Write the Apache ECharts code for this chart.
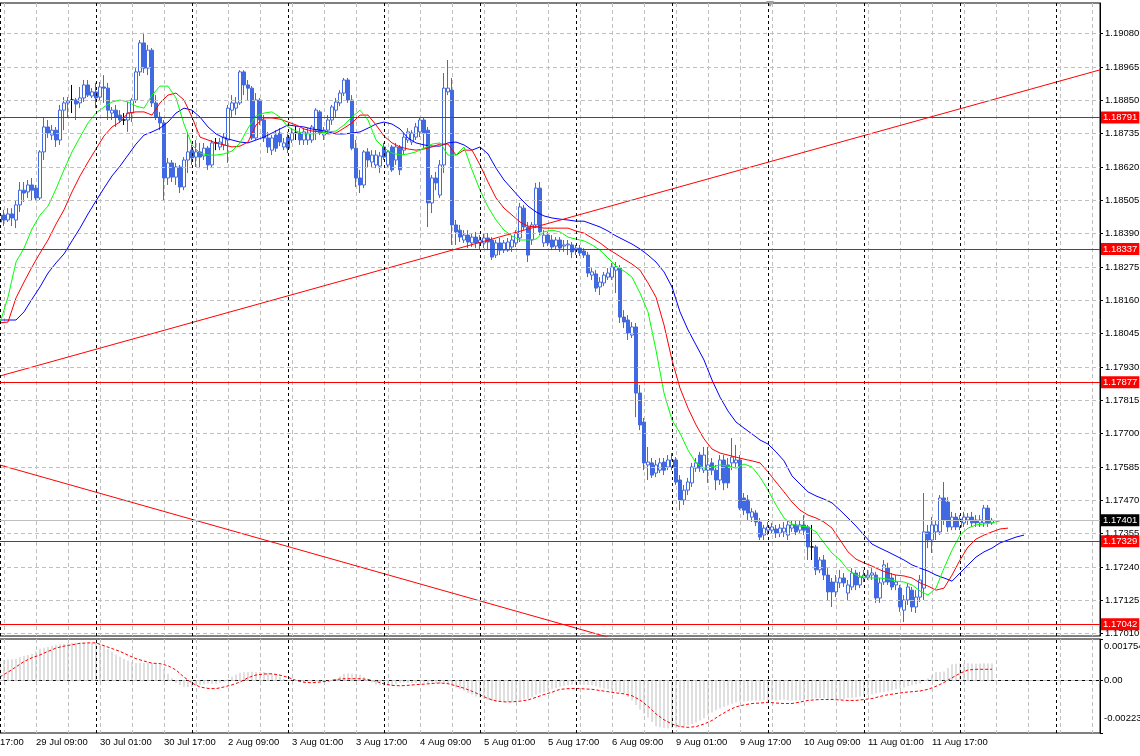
<!DOCTYPE html>
<html><head><meta charset="utf-8">
<script src="https://cdn.jsdelivr.net/npm/echarts@6/dist/echarts.min.js"></script>
<style>html,body{margin:0;padding:0;background:#fff;overflow:hidden;width:1140px;height:756px;position:relative}#c{position:absolute;left:-28px;top:0;width:1168px;height:756px}</style>
</head><body><div id="c"></div>
<script>
// ---------- DATA ----------
const opens=[1.18430,1.18454,1.18437,1.18458,1.18437,1.18489,1.18540,1.18534,1.18558,1.18547,1.18513,1.18672,1.18758,1.18730,1.18747,1.18713,1.18816,1.18841,1.18851,1.18851,1.18841,1.18858,1.18903,1.18865,1.18879,1.18861,1.18896,1.18892,1.18806,1.18816,1.18799,1.18782,1.18782,1.18806,1.18851,1.18948,1.19048,1.18961,1.19023,1.18841,1.18792,1.18772,1.18582,1.18634,1.18585,1.18620,1.18551,1.18644,1.18678,1.18654,1.18672,1.18658,1.18685,1.18627,1.18703,1.18689,1.18696,1.18713,1.18816,1.18823,1.18841,1.18948,1.18903,1.18892,1.18720,1.18851,1.18782,1.18720,1.18678,1.18730,1.18737,1.18689,1.18723,1.18713,1.18737,1.18737,1.18713,1.18713,1.18713,1.18747,1.18810,1.18730,1.18747,1.18782,1.18816,1.18841,1.18875,1.18920,1.18851,1.18685,1.18582,1.18558,1.18672,1.18637,1.18627,1.18623,1.18689,1.18627,1.18689,1.18644,1.18689,1.18678,1.18713,1.18706,1.18723,1.18741,1.18782,1.18747,1.18496,1.18582,1.18523,1.18627,1.18879,1.18885,1.18420,1.18402,1.18368,1.18385,1.18358,1.18378,1.18358,1.18358,1.18375,1.18368,1.18316,1.18358,1.18333,1.18333,1.18344,1.18358,1.18375,1.18478,1.18413,1.18368,1.18420,1.18547,1.18358,1.18385,1.18368,1.18347,1.18368,1.18347,1.18351,1.18351,1.18333,1.18340,1.18330,1.18316,1.18247,1.18251,1.18206,1.18220,1.18240,1.18240,1.18264,1.18271,1.18102,1.18092,1.18040,1.18068,1.17840,1.17740,1.17592,1.17599,1.17564,1.17574,1.17602,1.17585,1.17585,1.17609,1.17540,1.17471,1.17505,1.17530,1.17581,1.17626,1.17574,1.17574,1.17599,1.17574,1.17540,1.17609,1.17592,1.17599,1.17599,1.17609,1.17478,1.17471,1.17412,1.17426,1.17395,1.17350,1.17367,1.17367,1.17371,1.17357,1.17361,1.17350,1.17374,1.17385,1.17367,1.17385,1.17378,1.17309,1.17309,1.17230,1.17264,1.17212,1.17188,1.17154,1.17185,1.17202,1.17150,1.17171,1.17219,1.17178,1.17202,1.17205,1.17212,1.17212,1.17133,1.17188,1.17236,1.17202,1.17178,1.17167,1.17091,1.17126,1.17160,1.17102,1.17136,1.17167,1.17361,1.17333,1.17361,1.17361,1.17478,1.17464,1.17378,1.17412,1.17378,1.17392,1.17402,1.17412,1.17402,1.17392,1.17392,1.17443,1.17392];
const closes=[1.18454,1.18437,1.18458,1.18444,1.18489,1.18540,1.18530,1.18558,1.18540,1.18513,1.18672,1.18758,1.18737,1.18747,1.18713,1.18816,1.18841,1.18848,1.18851,1.18837,1.18858,1.18903,1.18868,1.18879,1.18858,1.18896,1.18892,1.18816,1.18816,1.18792,1.18782,1.18782,1.18806,1.18851,1.18948,1.19048,1.18961,1.19023,1.18841,1.18792,1.18772,1.18582,1.18634,1.18585,1.18620,1.18551,1.18644,1.18672,1.18651,1.18672,1.18654,1.18685,1.18627,1.18703,1.18703,1.18706,1.18723,1.18823,1.18841,1.18841,1.18948,1.18903,1.18892,1.18720,1.18851,1.18782,1.18720,1.18689,1.18720,1.18685,1.18706,1.18703,1.18685,1.18737,1.18737,1.18713,1.18741,1.18737,1.18758,1.18816,1.18737,1.18747,1.18782,1.18827,1.18844,1.18875,1.18920,1.18851,1.18685,1.18582,1.18558,1.18672,1.18644,1.18661,1.18661,1.18658,1.18654,1.18672,1.18610,1.18689,1.18610,1.18723,1.18741,1.18737,1.18758,1.18782,1.18737,1.18496,1.18582,1.18565,1.18627,1.18892,1.18892,1.18420,1.18396,1.18378,1.18385,1.18361,1.18378,1.18358,1.18368,1.18375,1.18361,1.18309,1.18358,1.18333,1.18358,1.18361,1.18368,1.18392,1.18482,1.18413,1.18316,1.18420,1.18547,1.18396,1.18385,1.18358,1.18344,1.18368,1.18340,1.18351,1.18354,1.18327,1.18340,1.18323,1.18316,1.18254,1.18258,1.18202,1.18223,1.18247,1.18254,1.18275,1.18275,1.18102,1.18085,1.18047,1.18068,1.17840,1.17730,1.17599,1.17602,1.17557,1.17592,1.17599,1.17574,1.17609,1.17609,1.17533,1.17471,1.17505,1.17533,1.17585,1.17599,1.17581,1.17626,1.17592,1.17574,1.17540,1.17609,1.17530,1.17530,1.17619,1.17609,1.17443,1.17436,1.17426,1.17430,1.17395,1.17343,1.17374,1.17378,1.17378,1.17357,1.17374,1.17374,1.17385,1.17385,1.17361,1.17385,1.17367,1.17309,1.17309,1.17230,1.17264,1.17212,1.17154,1.17154,1.17188,1.17202,1.17185,1.17178,1.17219,1.17178,1.17205,1.17212,1.17212,1.17219,1.17133,1.17185,1.17247,1.17188,1.17171,1.17188,1.17102,1.17126,1.17171,1.17102,1.17136,1.17195,1.17361,1.17333,1.17385,1.17385,1.17478,1.17402,1.17378,1.17412,1.17378,1.17405,1.17412,1.17412,1.17392,1.17392,1.17402,1.17443,1.17392,1.17401];
const highs=[1.18471,1.18472,1.18478,1.18478,1.18506,1.18568,1.18568,1.18575,1.18582,1.18558,1.18678,1.18792,1.18782,1.18765,1.18758,1.18834,1.18861,1.18861,1.18903,1.18858,1.18896,1.18920,1.18920,1.18892,1.18910,1.18913,1.18937,1.18910,1.18827,1.18834,1.18816,1.18806,1.18844,1.18858,1.18961,1.19058,1.19083,1.19041,1.19030,1.18868,1.18810,1.18782,1.18651,1.18644,1.18634,1.18627,1.18654,1.18741,1.18696,1.18713,1.18703,1.18703,1.18692,1.18713,1.18720,1.18720,1.18737,1.18834,1.18868,1.18861,1.18954,1.18954,1.18920,1.18899,1.18875,1.18858,1.18799,1.18741,1.18730,1.18747,1.18754,1.18720,1.18741,1.18754,1.18761,1.18754,1.18754,1.18754,1.18765,1.18823,1.18816,1.18758,1.18799,1.18834,1.18858,1.18885,1.18927,1.18927,1.18868,1.18713,1.18610,1.18678,1.18685,1.18678,1.18678,1.18672,1.18703,1.18678,1.18696,1.18703,1.18696,1.18737,1.18754,1.18747,1.18772,1.18789,1.18792,1.18758,1.18592,1.18603,1.18644,1.18944,1.18989,1.18927,1.18437,1.18420,1.18402,1.18402,1.18392,1.18396,1.18385,1.18392,1.18392,1.18378,1.18368,1.18375,1.18368,1.18375,1.18385,1.18402,1.18496,1.18489,1.18430,1.18430,1.18565,1.18568,1.18402,1.18396,1.18385,1.18378,1.18378,1.18368,1.18368,1.18361,1.18351,1.18351,1.18340,1.18327,1.18271,1.18264,1.18240,1.18258,1.18271,1.18289,1.18292,1.18282,1.18126,1.18109,1.18085,1.18082,1.17868,1.17754,1.17654,1.17616,1.17609,1.17616,1.17616,1.17626,1.17633,1.17619,1.17557,1.17523,1.17547,1.17599,1.17616,1.17637,1.17654,1.17654,1.17616,1.17592,1.17626,1.17626,1.17616,1.17685,1.17661,1.17626,1.17495,1.17488,1.17443,1.17436,1.17409,1.17385,1.17395,1.17392,1.17385,1.17388,1.17395,1.17402,1.17402,1.17402,1.17402,1.17419,1.17385,1.17385,1.17316,1.17274,1.17281,1.17236,1.17202,1.17212,1.17230,1.17219,1.17195,1.17236,1.17230,1.17223,1.17230,1.17230,1.17236,1.17223,1.17202,1.17264,1.17254,1.17219,1.17212,1.17178,1.17143,1.17185,1.17171,1.17160,1.17212,1.17495,1.17385,1.17412,1.17402,1.17488,1.17533,1.17481,1.17430,1.17426,1.17419,1.17430,1.17426,1.17430,1.17419,1.17419,1.17454,1.17454,1.17409];
const lows=[1.18409,1.18416,1.18430,1.18416,1.18409,1.18465,1.18499,1.18513,1.18506,1.18506,1.18506,1.18644,1.18720,1.18713,1.18689,1.18696,1.18747,1.18792,1.18806,1.18782,1.18823,1.18844,1.18861,1.18858,1.18823,1.18851,1.18841,1.18782,1.18782,1.18758,1.18772,1.18765,1.18741,1.18775,1.18841,1.18934,1.18944,1.18937,1.18827,1.18782,1.18747,1.18506,1.18558,1.18568,1.18558,1.18530,1.18540,1.18599,1.18627,1.18620,1.18616,1.18644,1.18610,1.18616,1.18678,1.18678,1.18678,1.18634,1.18789,1.18799,1.18834,1.18868,1.18851,1.18713,1.18713,1.18765,1.18706,1.18668,1.18661,1.18672,1.18692,1.18678,1.18668,1.18703,1.18713,1.18696,1.18696,1.18696,1.18703,1.18713,1.18730,1.18713,1.18737,1.18765,1.18792,1.18830,1.18865,1.18841,1.18678,1.18551,1.18530,1.18547,1.18620,1.18620,1.18616,1.18599,1.18644,1.18616,1.18603,1.18627,1.18592,1.18661,1.18703,1.18696,1.18713,1.18723,1.18685,1.18413,1.18461,1.18540,1.18513,1.18599,1.18868,1.18351,1.18351,1.18361,1.18358,1.18340,1.18344,1.18340,1.18333,1.18340,1.18333,1.18299,1.18306,1.18316,1.18323,1.18327,1.18327,1.18344,1.18361,1.18402,1.18292,1.18351,1.18409,1.18385,1.18344,1.18347,1.18333,1.18333,1.18327,1.18327,1.18316,1.18306,1.18316,1.18313,1.18306,1.18240,1.18230,1.18189,1.18178,1.18209,1.18230,1.18230,1.18185,1.18082,1.18064,1.18023,1.18030,1.17757,1.17712,1.17574,1.17540,1.17547,1.17550,1.17564,1.17557,1.17574,1.17574,1.17523,1.17436,1.17454,1.17488,1.17516,1.17568,1.17568,1.17564,1.17530,1.17557,1.17505,1.17523,1.17505,1.17512,1.17574,1.17581,1.17436,1.17419,1.17402,1.17395,1.17381,1.17333,1.17333,1.17350,1.17357,1.17340,1.17343,1.17343,1.17333,1.17361,1.17350,1.17357,1.17350,1.17264,1.17264,1.17212,1.17219,1.17195,1.17126,1.17102,1.17136,1.17167,1.17171,1.17126,1.17160,1.17160,1.17167,1.17188,1.17195,1.17195,1.17116,1.17116,1.17178,1.17178,1.17160,1.17160,1.17085,1.17050,1.17109,1.17085,1.17081,1.17119,1.17126,1.17305,1.17288,1.17333,1.17350,1.17385,1.17361,1.17367,1.17367,1.17367,1.17378,1.17385,1.17378,1.17378,1.17378,1.17378,1.17378,1.17385];

// Alligator lines, one value every 2 bars starting at bar 0
const lipsGreen=[1.18082,1.18171,1.18292,1.18340,1.18406,1.18454,1.18485,1.18544,1.18610,1.18672,1.18723,1.18772,1.18806,1.18827,1.18844,1.18851,1.18844,1.18830,1.18823,1.18868,1.18899,1.18899,1.18858,1.18768,1.18696,1.18668,1.18661,1.18661,1.18665,1.18675,1.18703,1.18754,1.18796,1.18806,1.18810,1.18792,1.18758,1.18744,1.18734,1.18734,1.18737,1.18741,1.18744,1.18765,1.18792,1.18816,1.18782,1.18713,1.18685,1.18668,1.18661,1.18665,1.18672,1.18685,1.18699,1.18703,1.18661,1.18661,1.18689,1.18610,1.18540,1.18482,1.18437,1.18402,1.18382,1.18368,1.18368,1.18371,1.18396,1.18402,1.18396,1.18378,1.18371,1.18365,1.18351,1.18333,1.18306,1.18278,1.18261,1.18240,1.18185,1.18120,1.17988,1.17840,1.17747,1.17702,1.17643,1.17599,1.17581,1.17585,1.17592,1.17588,1.17581,1.17595,1.17585,1.17550,1.17505,1.17454,1.17409,1.17388,1.17381,1.17378,1.17361,1.17323,1.17288,1.17264,1.17230,1.17212,1.17205,1.17202,1.17202,1.17198,1.17191,1.17188,1.17178,1.17157,1.17143,1.17167,1.17236,1.17298,1.17350,1.17374,1.17385,1.17388,1.17392,1.17399];
const teethRed=[1.18082,1.18085,1.18168,1.18223,1.18275,1.18323,1.18368,1.18423,1.18472,1.18534,1.18589,1.18637,1.18682,1.18727,1.18758,1.18775,1.18806,1.18810,1.18810,1.18799,1.18841,1.18868,1.18875,1.18851,1.18792,1.18723,1.18713,1.18703,1.18696,1.18689,1.18692,1.18706,1.18765,1.18789,1.18789,1.18785,1.18775,1.18765,1.18751,1.18744,1.18741,1.18734,1.18737,1.18754,1.18772,1.18799,1.18799,1.18765,1.18727,1.18703,1.18689,1.18682,1.18678,1.18682,1.18689,1.18699,1.18699,1.18661,1.18678,1.18678,1.18627,1.18568,1.18513,1.18478,1.18454,1.18430,1.18416,1.18413,1.18409,1.18409,1.18409,1.18409,1.18399,1.18392,1.18375,1.18358,1.18337,1.18320,1.18302,1.18285,1.18264,1.18220,1.18171,1.18075,1.17954,1.17857,1.17788,1.17730,1.17682,1.17647,1.17633,1.17626,1.17619,1.17612,1.17606,1.17599,1.17568,1.17533,1.17499,1.17464,1.17436,1.17419,1.17409,1.17395,1.17374,1.17333,1.17292,1.17267,1.17254,1.17243,1.17230,1.17219,1.17212,1.17209,1.17202,1.17185,1.17174,1.17160,1.17167,1.17212,1.17264,1.17309,1.17336,1.17350,1.17361,1.17371,1.17374];
const jawBlue=[1.18092,1.18092,1.18092,1.18120,1.18164,1.18206,1.18254,1.18289,1.18320,1.18365,1.18409,1.18458,1.18503,1.18547,1.18589,1.18623,1.18661,1.18699,1.18730,1.18741,1.18754,1.18775,1.18806,1.18823,1.18816,1.18792,1.18758,1.18734,1.18720,1.18713,1.18706,1.18703,1.18713,1.18723,1.18737,1.18751,1.18765,1.18761,1.18758,1.18751,1.18747,1.18741,1.18734,1.18734,1.18737,1.18741,1.18754,1.18768,1.18775,1.18768,1.18751,1.18720,1.18703,1.18696,1.18692,1.18692,1.18703,1.18706,1.18696,1.18678,1.18689,1.18665,1.18616,1.18575,1.18544,1.18513,1.18485,1.18465,1.18451,1.18444,1.18440,1.18437,1.18433,1.18433,1.18423,1.18413,1.18399,1.18382,1.18368,1.18354,1.18337,1.18316,1.18292,1.18258,1.18206,1.18120,1.18058,1.18006,1.17954,1.17885,1.17826,1.17778,1.17740,1.17719,1.17699,1.17678,1.17664,1.17637,1.17606,1.17554,1.17526,1.17499,1.17485,1.17474,1.17461,1.17436,1.17409,1.17381,1.17350,1.17319,1.17305,1.17292,1.17278,1.17264,1.17247,1.17236,1.17226,1.17212,1.17202,1.17191,1.17219,1.17247,1.17274,1.17292,1.17305,1.17323,1.17333,1.17343,1.17350];

// MACD histogram (one per bar) and signal (one every 2 bars)
const macdMain=[83e-5,85e-5,87e-5,90e-5,92e-5,98e-5,104e-5,108e-5,113e-5,124e-5,134e-5,138e-5,142e-5,147e-5,151e-5,153e-5,155e-5,157e-5,159e-5,160e-5,160e-5,159e-5,159e-5,160e-5,159e-5,154e-5,147e-5,134e-5,121e-5,110e-5,100e-5,91e-5,83e-5,78e-5,74e-5,74e-5,74e-5,75e-5,74e-5,71e-5,66e-5,48e-5,28e-5,9e-5,-10e-5,-20e-5,-27e-5,-28e-5,-27e-5,-23e-5,-19e-5,-16e-5,-14e-5,-14e-5,-14e-5,-10e-5,-6e-5,5e-5,15e-5,24e-5,32e-5,34e-5,36e-5,37e-5,36e-5,36e-5,36e-5,32e-5,28e-5,22e-5,15e-5,6e-5,-2e-5,-2e-5,-2e-5,-4e-5,-6e-5,-6e-5,-6e-5,-6e-5,-6e-5,-4e-5,-2e-5,3e-5,7e-5,18e-5,28e-5,29e-5,28e-5,26e-5,24e-5,14e-5,3e-5,-9e-5,-19e-5,-21e-5,-23e-5,-23e-5,-23e-5,-16e-5,-10e-5,-9e-5,-10e-5,-11e-5,-10e-5,-9e-5,-10e-5,-12e-5,-10e-5,-12e-5,-14e-5,-10e-5,-14e-5,-25e-5,-31e-5,-38e-5,-44e-5,-53e-5,-61e-5,-68e-5,-74e-5,-78e-5,-82e-5,-87e-5,-91e-5,-91e-5,-91e-5,-91e-5,-91e-5,-89e-5,-84e-5,-80e-5,-78e-5,-70e-5,-61e-5,-55e-5,-50e-5,-44e-5,-38e-5,-32e-5,-27e-5,-23e-5,-20e-5,-18e-5,-17e-5,-17e-5,-18e-5,-20e-5,-21e-5,-25e-5,-30e-5,-34e-5,-38e-5,-43e-5,-47e-5,-51e-5,-55e-5,-70e-5,-85e-5,-104e-5,-123e-5,-140e-5,-157e-5,-176e-5,-195e-5,-199e-5,-203e-5,-204e-5,-203e-5,-201e-5,-199e-5,-195e-5,-191e-5,-185e-5,-178e-5,-170e-5,-161e-5,-148e-5,-136e-5,-127e-5,-119e-5,-112e-5,-106e-5,-99e-5,-93e-5,-91e-5,-89e-5,-87e-5,-85e-5,-86e-5,-85e-5,-84e-5,-85e-5,-85e-5,-85e-5,-83e-5,-81e-5,-83e-5,-85e-5,-85e-5,-85e-5,-83e-5,-81e-5,-78e-5,-76e-5,-76e-5,-76e-5,-78e-5,-81e-5,-81e-5,-81e-5,-78e-5,-76e-5,-74e-5,-72e-5,-68e-5,-64e-5,-61e-5,-59e-5,-55e-5,-51e-5,-49e-5,-47e-5,-42e-5,-38e-5,-34e-5,-30e-5,-25e-5,-21e-5,-17e-5,-13e-5,-2e-5,8e-5,21e-5,34e-5,36e-5,38e-5,53e-5,68e-5,70e-5,72e-5,72e-5,73e-5,72e-5,71e-5,72e-5,73e-5,72e-5,72e-5];
const macdSignal=[15e-5,35e-5,57e-5,80e-5,96e-5,108e-5,123e-5,137e-5,145e-5,151e-5,157e-5,159e-5,159e-5,147e-5,135e-5,123e-5,107e-5,92e-5,82e-5,73e-5,71e-5,62e-5,44e-5,14e-5,-11e-5,-28e-5,-34e-5,-35e-5,-28e-5,-19e-5,-7e-5,11e-5,23e-5,27e-5,28e-5,22e-5,13e-5,0,-8e-5,-10e-5,-7e-5,-3e-5,4e-5,7e-5,7e-5,7e-5,4e-5,-4e-5,-15e-5,-21e-5,-23e-5,-21e-5,-18e-5,-16e-5,-13e-5,-11e-5,-14e-5,-23e-5,-33e-5,-46e-5,-61e-5,-77e-5,-87e-5,-91e-5,-91e-5,-88e-5,-83e-5,-72e-5,-60e-5,-50e-5,-38e-5,-35e-5,-34e-5,-36e-5,-38e-5,-43e-5,-48e-5,-53e-5,-57e-5,-65e-5,-83e-5,-110e-5,-142e-5,-167e-5,-185e-5,-196e-5,-199e-5,-196e-5,-185e-5,-170e-5,-148e-5,-128e-5,-112e-5,-104e-5,-98e-5,-96e-5,-93e-5,-96e-5,-98e-5,-98e-5,-92e-5,-85e-5,-82e-5,-81e-5,-81e-5,-83e-5,-85e-5,-85e-5,-81e-5,-77e-5,-68e-5,-61e-5,-56e-5,-51e-5,-48e-5,-45e-5,-38e-5,-25e-5,-9e-5,11e-5,30e-5,44e-5,47e-5,47e-5,47e-5];

// levels, trend lines, ticks
const redLevels=[1.18791,1.18337,1.17877,1.17329,1.17042];
const bidPrice=1.17401;
const priceTicks=[1.17010,1.17125,1.17240,1.17355,1.17470,1.17585,1.17700,1.17815,1.17930,1.18045,1.18160,1.18275,1.18390,1.18505,1.18620,1.18735,1.18850,1.18965,1.19080];
const macdTicks=[-0.00223,0,0.001754];
const macdTickLabels=['-0.00223','0.00','0.001754'];
const trendUpBars=[-7,275], trendUpPrices=[1.17872,1.18955];
const trendDownBars=[-7,175], trendDownPrices=[1.17619,1.16908];

// time categories (H1, weekends skipped), first 7 slots before the first visible bar
const PRE=7, NCAT=283;
const MONTHS=['Jan','Feb','Mar','Apr','May','Jun','Jul','Aug','Sep','Oct','Nov','Dec'];
const categories=[];
(function(){let t=Date.UTC(2021,6,28,17);while(categories.length<NCAT){const d=new Date(t);const w=d.getUTCDay();if(w!==0&&w!==6){categories.push(d.getUTCDate()+' '+MONTHS[d.getUTCMonth()]+' '+String(d.getUTCHours()).padStart(2,'0')+':00');}t+=3600000;}})();
const daySeparators=categories.filter(c=>c.endsWith(' 00:00'));
const lastDataCat=PRE+opens.length-1;

// ---------- BUILD ----------
const FONT='Liberation Sans';
const FS=9.5;
const BLUE='#4169e1';
const candleData=[];
for(let c=0;c<PRE;c++)candleData.push(['-','-','-','-']);
for(let i=0;i<opens.length;i++)candleData.push([opens[i],closes[i],lows[i],highs[i]]);
const every2=(arr)=>arr.map((v,k)=>[PRE+2*k,v]);
const histData=[];for(let c=0;c<PRE;c++)histData.push('-');macdMain.forEach(v=>histData.push(v));

const gridLine={color:'#c0c0c0',width:1,type:[4,3]};
const sepLine={color:'#000',width:1,type:[3,3]};
const ML={silent:true,symbol:['none','none'],precision:6,animation:false};

const chart=echarts.init(document.getElementById('c'),null,{renderer:'canvas'});
const xBase={type:'category',data:categories,boundaryGap:false,axisTick:{show:false},
  splitLine:{show:true,interval:(i)=>i%8===0,lineStyle:gridLine}};
chart.setOption({
  animation:false,
  backgroundColor:'#fff',
  textStyle:{fontFamily:FONT},
  grid:[
    {left:0,right:40,top:3,height:633,outerBoundsMode:'none',containLabel:false,show:true,borderColor:'#000',borderWidth:1,backgroundColor:'transparent'},
    {left:0,right:40,top:639,height:94,outerBoundsMode:'none',containLabel:false,show:true,borderColor:'#000',borderWidth:1,backgroundColor:'transparent'}
  ],
  graphic:[{type:'polygon',left:794,top:1,shape:{points:[[0,0],[8,0],[4,6]]},style:{fill:'#a0a0a0'},silent:true}],
  xAxis:[
    Object.assign({},xBase,{gridIndex:0,axisLine:{show:false},axisLabel:{show:false}}),
    Object.assign({},xBase,{gridIndex:1,axisLine:{show:true,lineStyle:{color:'#000'}},
      axisLabel:{show:true,interval:(i)=>i%16===0&&i<=lastDataCat,align:'left',margin:4,color:'#000',fontSize:FS,fontFamily:FONT}})
  ],
  yAxis:[
    {type:'value',gridIndex:0,position:'right',min:1.170018,max:1.191857,
     axisLine:{show:true,lineStyle:{color:'#000'}},
     axisTick:{show:true,length:3,customValues:priceTicks,lineStyle:{color:'#000'}},
     axisLabel:{show:true,customValues:priceTicks,formatter:(v)=>v.toFixed(5),margin:5,color:'#000',fontSize:FS,fontFamily:FONT},
     splitLine:{show:false}},
    {type:'value',gridIndex:1,position:'right',min:-0.00223,max:0.001754,
     axisLine:{show:true,lineStyle:{color:'#000'}},
     axisTick:{show:true,length:3,customValues:macdTicks,lineStyle:{color:'#000'}},
     axisLabel:{show:true,customValues:macdTicks,margin:4,color:'#000',fontSize:FS,fontFamily:FONT,
       formatter:(v)=>{let k=0,b=1e9;macdTicks.forEach((t,j)=>{const d=Math.abs(t-v);if(d<b){b=d;k=j;}});
         return k===2?'{t|'+macdTickLabels[k]+'}':(k===0?'{b|'+macdTickLabels[k]+'}':macdTickLabels[k]);},
       rich:{t:{padding:[14,0,0,0],fontSize:FS,fontFamily:FONT,color:'#000'},b:{padding:[0,0,30,0],fontSize:FS,fontFamily:FONT,color:'#000'}}},
     splitLine:{show:false}}
  ],
  series:[
    {type:'line',xAxisIndex:0,yAxisIndex:0,data:[],z:1,silent:true,
     markLine:Object.assign({},ML,{label:{show:false},lineStyle:gridLine,data:priceTicks.map(v=>({yAxis:v}))})},
    {type:'line',xAxisIndex:0,yAxisIndex:0,data:[],z:1,silent:true,
     markLine:Object.assign({},ML,{label:{show:false},lineStyle:sepLine,data:daySeparators.map(c=>({xAxis:c}))})},
    {type:'candlestick',xAxisIndex:0,yAxisIndex:0,data:candleData,barWidth:3,z:3,
     itemStyle:{color:'#ffffff',color0:BLUE,borderColor:BLUE,borderColor0:BLUE,borderColorDoji:'#000000',borderWidth:1}},
    {type:'line',xAxisIndex:0,yAxisIndex:0,data:every2(jawBlue),symbol:'none',z:4,lineStyle:{color:'#0000ff',width:1}},
    {type:'line',xAxisIndex:0,yAxisIndex:0,data:every2(teethRed),symbol:'none',z:4,lineStyle:{color:'#ff0000',width:1}},
    {type:'line',xAxisIndex:0,yAxisIndex:0,data:every2(lipsGreen),symbol:'none',z:4,lineStyle:{color:'#00ff00',width:1}},
    {type:'line',xAxisIndex:0,yAxisIndex:0,data:trendUpBars.map((b,k)=>[PRE+b,trendUpPrices[k]]),symbol:'none',z:4,clip:true,lineStyle:{color:'#ff0000',width:1}},
    {type:'line',xAxisIndex:0,yAxisIndex:0,data:trendDownBars.map((b,k)=>[PRE+b,trendDownPrices[k]]),symbol:'none',z:4,clip:true,lineStyle:{color:'#ff0000',width:1}},
    {type:'line',xAxisIndex:0,yAxisIndex:0,data:[],z:5,silent:true,
     markLine:Object.assign({},ML,{
       data:redLevels.map(v=>({yAxis:v,lineStyle:{color:'#ff0000',width:1,type:'solid'},
         label:{show:true,position:'end',distance:1,formatter:v.toFixed(5),color:'#fff',backgroundColor:'#ff0000',padding:[1,2,0,2],fontSize:FS,fontFamily:FONT,lineHeight:11}}))
        .concat([{yAxis:bidPrice,lineStyle:{color:'#c0c0c0',width:1,type:'solid'},
         label:{show:true,position:'end',distance:1,formatter:bidPrice.toFixed(5),color:'#fff',backgroundColor:'#000',padding:[1,2,0,2],fontSize:FS,fontFamily:FONT,lineHeight:11}}])})},
    // MACD panel
    {type:'line',xAxisIndex:1,yAxisIndex:1,data:[],z:1,silent:true,
     markLine:Object.assign({},ML,{label:{show:false},
       data:[{yAxis:0,lineStyle:gridLine}].concat(daySeparators.map(c=>({xAxis:c,lineStyle:sepLine})))})},
    {type:'bar',xAxisIndex:1,yAxisIndex:1,data:histData,barWidth:1,z:3,itemStyle:{color:'#c0c0c0'}},
    {type:'line',xAxisIndex:1,yAxisIndex:1,data:every2(macdSignal),symbol:'none',z:4,lineStyle:{color:'#ff0000',width:1,type:[3,2]}}
  ]
});
</script></body></html>
